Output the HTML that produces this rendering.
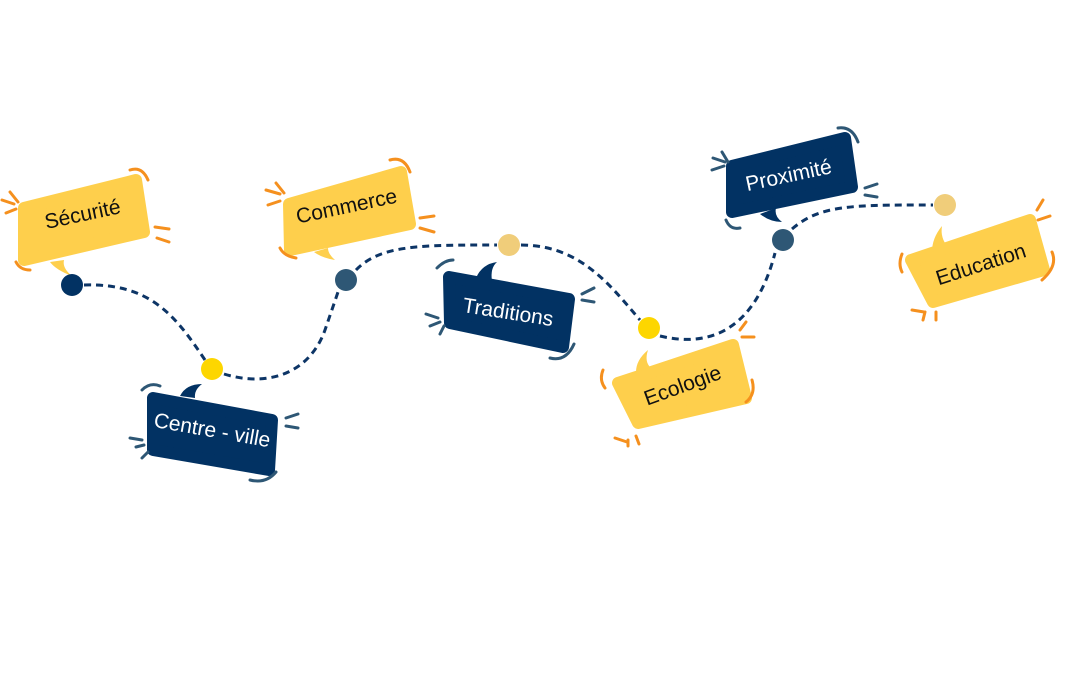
<!DOCTYPE html>
<html><head><meta charset="utf-8"><style>
html,body{margin:0;padding:0;background:#fff;}
svg{display:block}
text{font-family:"Liberation Sans","DejaVu Sans",sans-serif;font-size:21px;}
</style></head><body>
<svg width="1080" height="680" viewBox="0 0 1080 680" xmlns="http://www.w3.org/2000/svg">
<g fill="none" stroke="#0d3566" stroke-width="3" stroke-dasharray="7,5">
<path d="M84,285 C150,283 175,315 205,360"/>
<path d="M224,374 C270,388 310,372 325,330 L338,292"/>
<path d="M356,270 C380,245 420,245 497,245"/>
<path d="M521,245 C580,245 610,285 640,320"/>
<path d="M660,336 C710,348 755,330 775,253"/>
<path d="M792,229 C820,205 850,205 933,205"/>
</g>
<g stroke-linejoin="round" stroke-width="12">
<path d="M24,208 L136,180 L144,232 L24,260 Z" fill="#fecf4c" stroke="#fecf4c"/>
<path d="M289,204 L401,172 L410,224 L290,250 Z" fill="#fecf4c" stroke="#fecf4c"/>
<path d="M153,398 L272,420 L269,470 L153,450 Z" fill="#023263" stroke="#023263"/>
<path d="M449,277 L569,299 L563,347 L450,323 Z" fill="#023263" stroke="#023263"/>
<path d="M618,383 L733,345 L746,398 L638,423 Z" fill="#fecf4c" stroke="#fecf4c"/>
<path d="M732,166 L845,138 L852,187 L732,212 Z" fill="#023263" stroke="#023263"/>
<path d="M911,260 L1030,220 L1044,270 L933,302 Z" fill="#fecf4c" stroke="#fecf4c"/>
</g>
<g>
<path d="M50,262 Q56,270 72,276 Q62,268 64,260 Z" fill="#fecf4c"/>
<path d="M314,252 Q322,258 335,260 Q328,254 328,248 Z" fill="#fecf4c"/>
<path d="M180,396 Q186,384 202,384 Q194,390 195,398 Z" fill="#023263"/>
<path d="M476,278 Q482,264 497,262 Q490,268 492,281 Z" fill="#023263"/>
<path d="M636,372 Q636,360 648,350 Q644,362 651,368 Z" fill="#fecf4c"/>
<path d="M760,214 Q770,222 782,222 Q774,216 776,208 Z" fill="#023263"/>
<path d="M932,252 Q932,238 942,226 Q940,238 948,247 Z" fill="#fecf4c"/>
</g>
<g fill="none" stroke-width="3" stroke-linecap="round">
<g stroke="#f5901e">
<path d="M2,200 l12,4 M6,213 l10,-4 M10,192 l8,10"/>
<path d="M130,170 q12,-4 18,10"/>
<path d="M155,227 l14,2 M157,238 l12,4"/>
<path d="M16,262 q4,8 14,8"/>
<path d="M266,190 l14,4 M268,205 l12,-4 M276,183 l8,10"/>
<path d="M390,160 q14,-4 20,12"/>
<path d="M420,218 l14,-2 M420,228 l14,4"/>
<path d="M280,248 q4,8 16,10"/>
<path d="M603,370 q-4,10 2,18"/>
<path d="M615,438 l12,4 M628,440 l0,6 M636,436 l3,8"/>
<path d="M740,330 l6,-8 M742,337 l12,0"/>
<path d="M752,380 q4,14 -6,22"/>
<path d="M902,254 q-4,10 0,18"/>
<path d="M912,310 l12,2 M925,312 l-2,8 M936,312 l0,8"/>
<path d="M1037,210 l6,-10 M1038,220 l12,-4"/>
<path d="M1052,252 q6,14 -10,28"/>
</g>
<g stroke="#2e5775">
<path d="M142,390 q8,-8 18,-4"/>
<path d="M130,438 l12,2 M136,447 l8,-2 M142,458 l6,-6"/>
<path d="M286,418 l12,-4 M286,426 l12,2"/>
<path d="M250,480 q16,4 26,-8"/>
<path d="M437,268 q8,-8 16,-8"/>
<path d="M426,314 l12,4 M430,326 l10,-4 M440,334 l4,-8"/>
<path d="M582,294 l12,-6 M582,300 l12,2"/>
<path d="M550,358 q16,4 24,-14"/>
<path d="M713,158 l12,4 M712,170 l12,-4 M722,152 l6,10"/>
<path d="M838,128 q14,-2 20,14"/>
<path d="M865,188 l12,-4 M865,195 l12,2"/>
<path d="M726,220 q4,10 14,8"/>
</g>
</g>
<circle cx="72" cy="285" r="11" fill="#023263"/>
<circle cx="212" cy="369" r="11" fill="#fdd600"/>
<circle cx="346" cy="280" r="11" fill="#2e5775"/>
<circle cx="509" cy="245" r="11" fill="#f0cd7a"/>
<circle cx="649" cy="328" r="11" fill="#fdd600"/>
<circle cx="783" cy="240" r="11" fill="#2e5775"/>
<circle cx="945" cy="205" r="11" fill="#f0cd7a"/>
<text transform="translate(84,221) rotate(-12)" text-anchor="middle" fill="#111">Sécurité</text>
<text transform="translate(348,213) rotate(-12)" text-anchor="middle" fill="#111">Commerce</text>
<text transform="translate(211,437) rotate(10)" text-anchor="middle" fill="#fff">Centre - ville</text>
<text transform="translate(507,319) rotate(9)" text-anchor="middle" fill="#fff">Traditions</text>
<text transform="translate(685,392) rotate(-20)" text-anchor="middle" fill="#111">Ecologie</text>
<text transform="translate(790,182) rotate(-12)" text-anchor="middle" fill="#fff">Proximité</text>
<text transform="translate(983,271) rotate(-18)" text-anchor="middle" fill="#111">Education</text>
</svg>
</body></html>
